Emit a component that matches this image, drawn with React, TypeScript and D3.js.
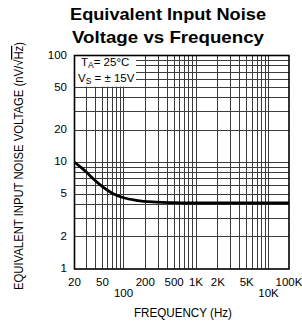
import React from 'react';
import * as d3 from 'd3';

// noise curve
const freqHz = [20, 25, 30, 37, 50, 70, 100, 150, 250, 600, 1000, 10000, 100000];
const noiseNv = [10, 8.9, 8.0, 7.0, 5.9, 5.1, 4.65, 4.4, 4.25, 4.17, 4.15, 4.15, 4.15];

const xTickValues = [20, 50, 100, 200, 500, 1000, 2000, 5000, 10000, 100000];
const xTickLabels = ['20', '50', '100', '200', '500', '1K', '2K', '5K', '10K', '100K'];
const xLowRow = ['100', '10K'];

const yTickValues = [1, 2, 5, 10, 20, 50, 100];
const yTickLabels = ['1', '2', '5', '10', '20', '50', '100'];

const titleLines = ['Equivalent Input Noise', 'Voltage vs Frequency'];

const W = 302;
const H = 325;
const FONT = '"Liberation Sans", Arial, sans-serif';

export default function App() {
  const left = 74.5;
  const right = 289;
  const top = 55.5;
  const bottom = 269;

  // the scanned grid: three real decades then the last one squeezed in
  const x = d3.scaleLog()
    .domain([20, 100, 1000, 10000, 100000])
    .range([left, 123.5, 196, 268.5, right]);
  const y = d3.scaleLog().domain([1, 100]).range([bottom, top]);

  const gridX = x.ticks().filter((d) => d > 20 && d <= 10000);
  const gridY = y.ticks().filter((d) => d > 1 && d < 100);

  const line = d3.line<number>()
    .x((d, i) => x(freqHz[i]))
    .y((d) => y(d))
    .curve(d3.curveMonotoneX);

  return (
    <svg width={W} height={H} style={{ position: 'absolute', left: 0, top: 0, background: '#fff' }}>
      <rect width={W} height={H} fill="#fff" />

      {titleLines.map((t, i) => (
        <text key={t} x={168} y={20 + i * 22.5} textAnchor="middle" fontFamily={FONT}
          fontWeight="bold" fontSize={17} textLength={i === 0 ? 196 : 192}
          lengthAdjust="spacingAndGlyphs">{t}</text>
      ))}

      <g shapeRendering="crispEdges" stroke="#3c3c3c" strokeWidth={1}>
        {gridX.map((d) => (
          <line key={'gx' + d} x1={x(d)} x2={x(d)} y1={top} y2={bottom} />
        ))}
        {gridY.map((d) => (
          <line key={'gy' + d} x1={left} x2={right} y1={y(d)} y2={y(d)} />
        ))}
      </g>

      {/* condition box sits on top of the grid */}
      <rect x={left} y={top} width={136 - left} height={y(50) - top - 1} fill="#fff" />
      <g fontFamily={FONT} fontSize={11.5} fill="#000">
        <text x={81} y={65.7}>
          T<tspan fontSize={8.5} dy={2.6}>A</tspan><tspan dy={-2.6}>= 25°C</tspan>
        </text>
        <text x={78} y={81.7}>
          V<tspan fontSize={8.5} dy={2.6}>S</tspan><tspan dy={-2.6}> = ± 15V</tspan>
        </text>
      </g>

      <rect x={left} y={top} width={right - left} height={bottom - top}
        fill="none" stroke="#000" strokeWidth={1.6} />

      <path d={line(noiseNv) || ''} fill="none" stroke="#000" strokeWidth={2.8} />

      <g fontFamily={FONT} fontSize={11.5} fill="#000">
        {yTickValues.map((d, i) => (
          <text key={'yt' + d} x={67} y={y(d)} textAnchor="end" dominantBaseline="middle">
            {yTickLabels[i]}
          </text>
        ))}
        {xTickValues.map((d, i) => (
          <text key={'xt' + d} x={x(d)} y={xLowRow.includes(xTickLabels[i]) ? 296.5 : 286}
            textAnchor="middle">{xTickLabels[i]}</text>
        ))}
      </g>
      <g fontFamily={FONT} fontSize={12.5} fill="#000">
        <text x={183} y={317} textAnchor="middle" textLength={98}
          lengthAdjust="spacingAndGlyphs">FREQUENCY (Hz)</text>
        <text transform="translate(23,166) rotate(-90)" textAnchor="middle"
          textLength={248} lengthAdjust="spacingAndGlyphs">
          EQUIVALENT INPUT NOISE VOLTAGE (nV/√<tspan style={{ textDecoration: 'overline' }}>Hz</tspan>)
        </text>
      </g>
    </svg>
  );
}
